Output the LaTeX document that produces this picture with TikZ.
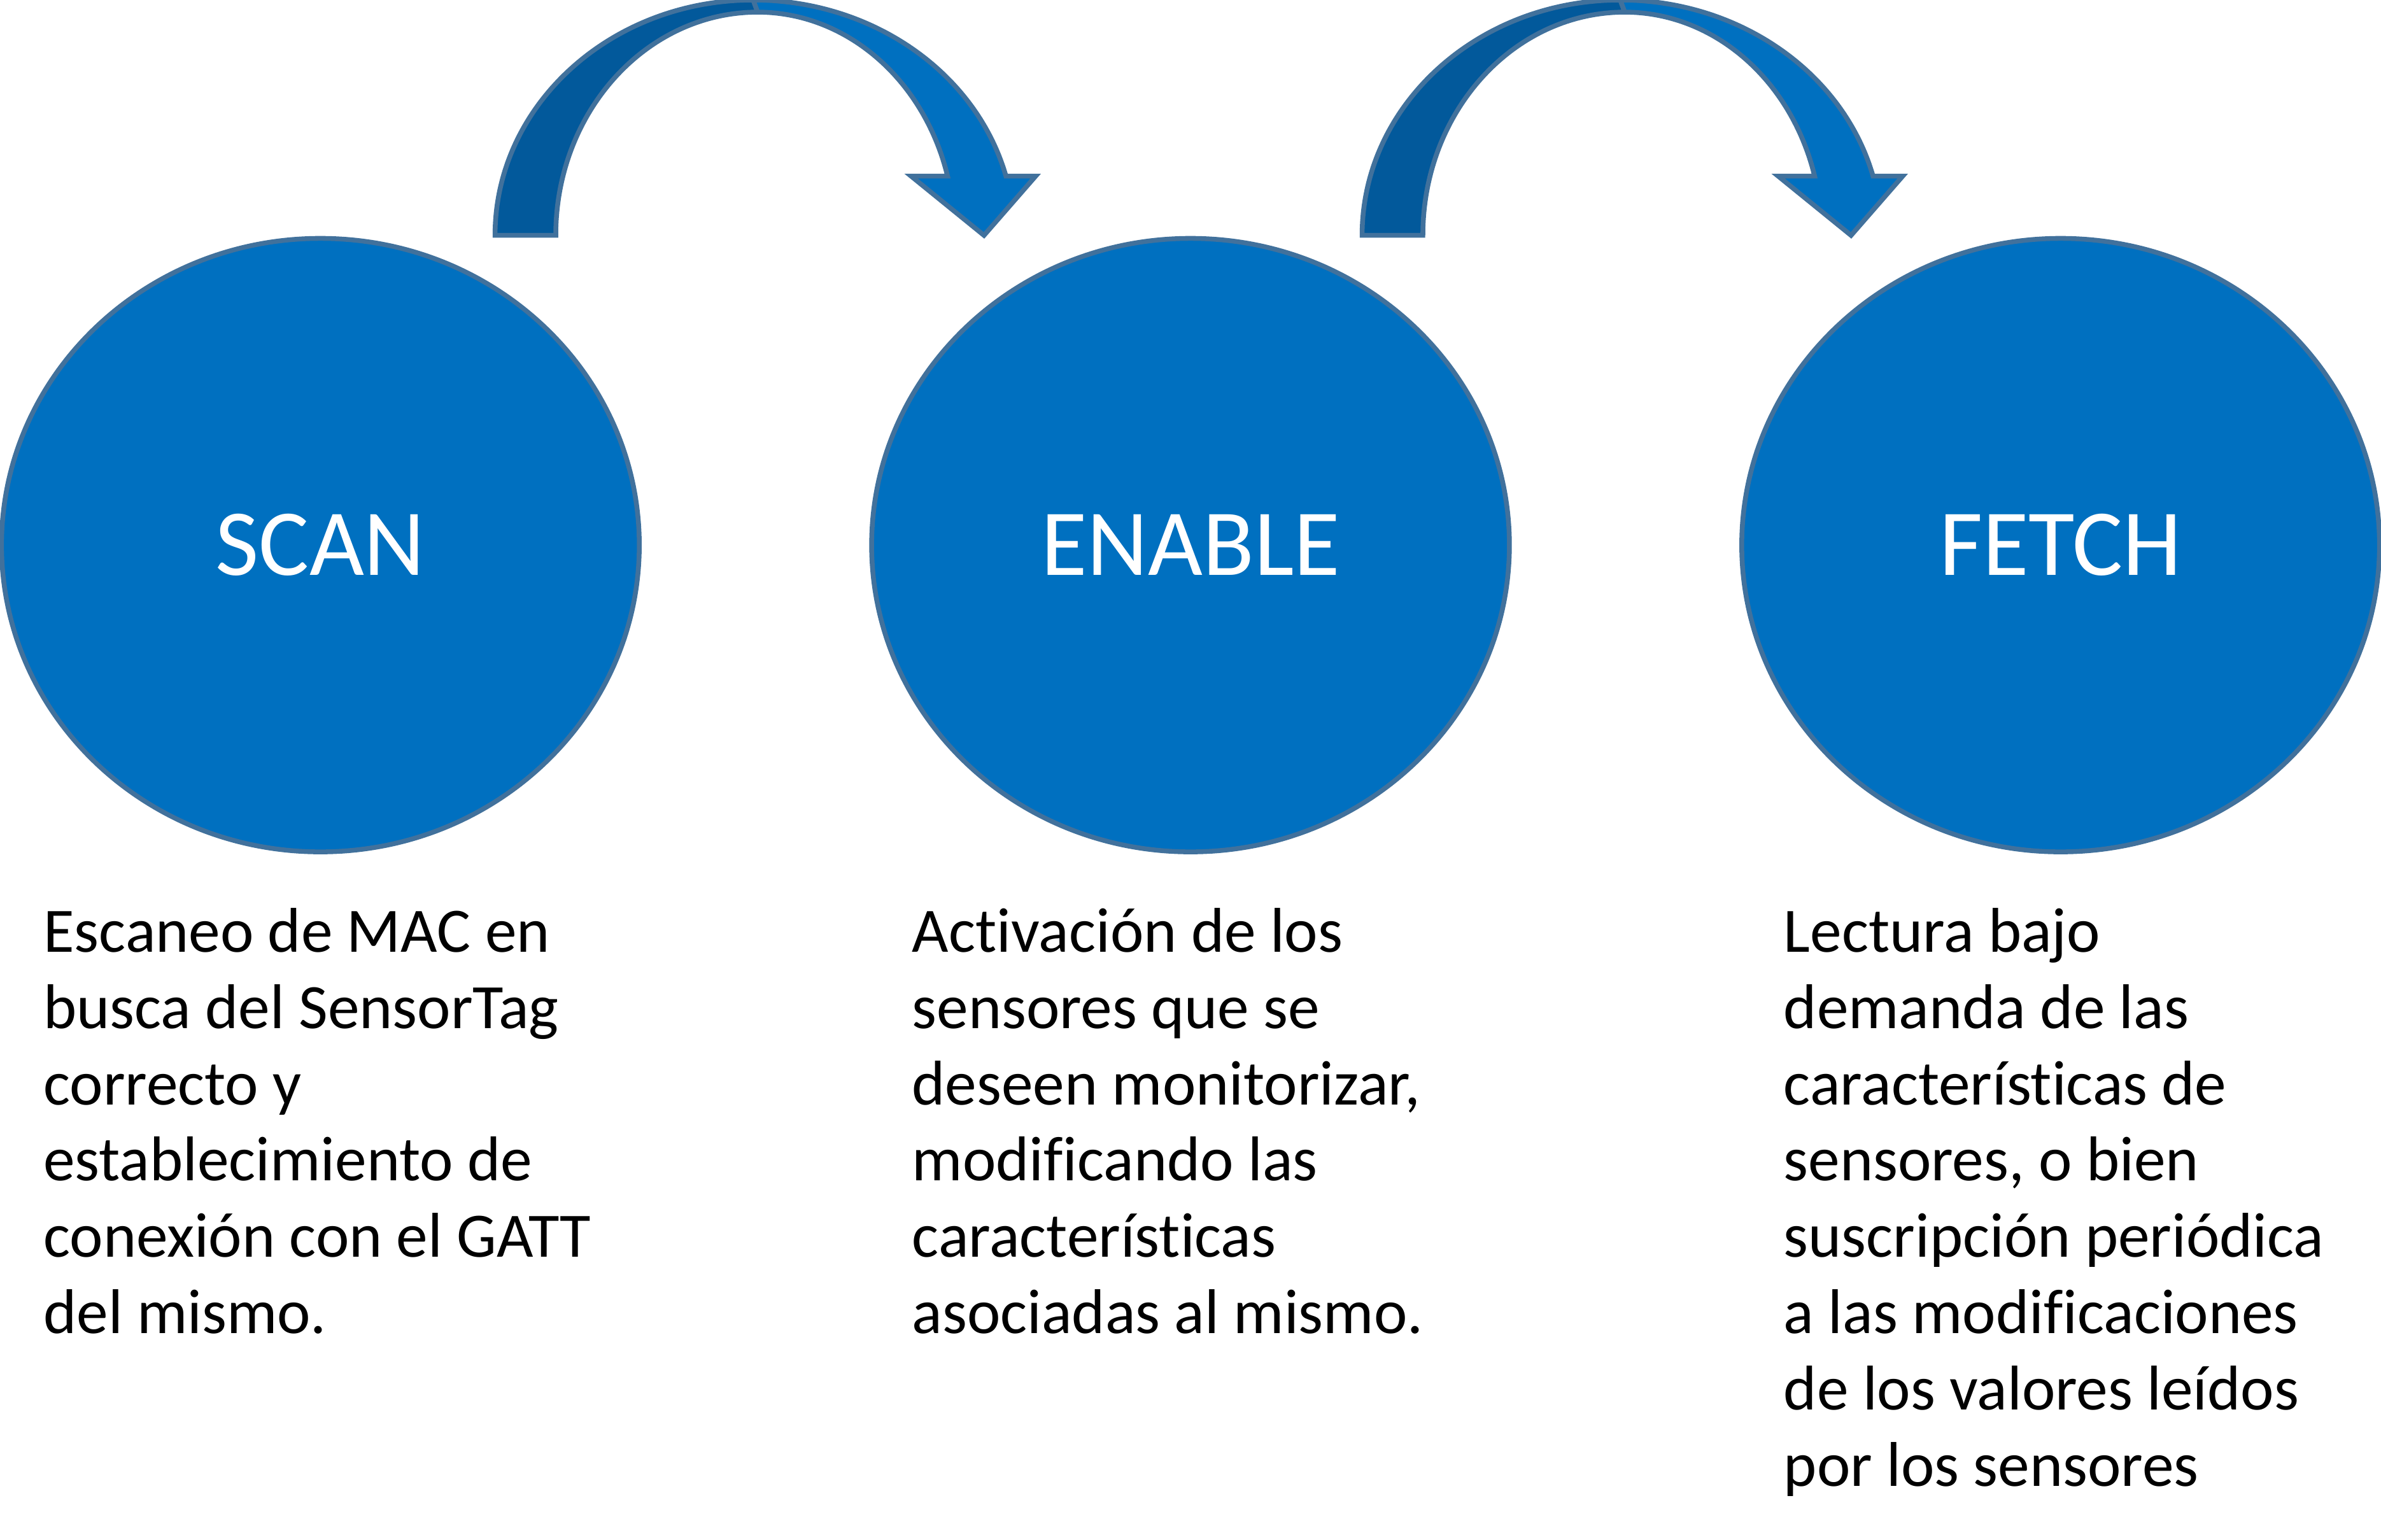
\documentclass[tikz,border=0pt]{standalone}
\usepackage{fontspec}
\setmainfont{Carlito}[Ligatures=NoCommon]
\usetikzlibrary{shapes.geometric}

\definecolor{phasefill}{RGB}{0,112,192}
\definecolor{phaseback}{RGB}{2,89,155}
\definecolor{phaseline}{RGB}{65,113,156}

\tikzset{
phase/.style={ellipse, draw=phaseline, line width=.9pt, fill=phasefill, minimum width=4.2cm, minimum height=4.04cm, text=white, font=\fontsize{17.7}{21}\selectfont},
desc/.style={anchor=north west, inner sep=0pt, align=left, font=\fontsize{11.85}{14.3}\selectfont},
backband/.style={draw=phaseline, line width=.9pt, fill=phaseback, line join=miter},
frontband/.style={draw=phaseline, line width=.9pt, fill=phasefill, line join=miter}
}

\begin{document}
\begin{tikzpicture}
\useasboundingbox (0,0) rectangle (15.68,-10.14);

\node[phase](scan) at (2.11,-3.59) {SCAN};
\node[phase](enable) at (7.84,-3.59) {ENABLE};
\node[phase](fetch) at (13.57,-3.59) {FETCH};

\node[desc](scantxt) at (0.28,-5.91) {\strut Escaneo de MAC en\\busca del SensorTag\\correcto y\\establecimiento de\\conexión con el GATT\\del mismo.};
\node[desc](enabletxt) at (6.00,-5.91) {\strut Activación de los\\sensores que se\\deseen monitorizar,\\modificando las\\características\\asociadas al mismo.};
\node[desc](fetchtxt) at (11.74,-5.91) {\strut Lectura bajo\\demanda de las\\características de\\sensores, o bien\\suscripción periódica\\a las modificaciones\\de los valores leídos\\por los sensores};

% scan -> enable
\draw[backband] (3.26,-1.55) arc[start angle=180, end angle=90, x radius=1.70, y radius=1.55] -- (4.99,-0.08) arc[start angle=90, end angle=180, x radius=1.33, y radius=1.47] -- cycle;
\draw[frontband] (4.96,0) arc[start angle=90, end angle=14.57, x radius=1.72, y radius=1.55] -- (6.82,-1.16) -- (6.48,-1.55) -- (6.00,-1.16) -- (6.24,-1.16) arc[start angle=15.39, end angle=90, x radius=1.297, y radius=1.47] -- cycle;

% enable -> fetch
\draw[backband] (8.97,-1.55) arc[start angle=180, end angle=90, x radius=1.70, y radius=1.55] -- (10.70,-0.08) arc[start angle=90, end angle=180, x radius=1.33, y radius=1.47] -- cycle;
\draw[frontband] (10.67,0) arc[start angle=90, end angle=14.57, x radius=1.72, y radius=1.55] -- (12.53,-1.16) -- (12.19,-1.55) -- (11.71,-1.16) -- (11.95,-1.16) arc[start angle=15.39, end angle=90, x radius=1.297, y radius=1.47] -- cycle;
\end{tikzpicture}
\end{document}
